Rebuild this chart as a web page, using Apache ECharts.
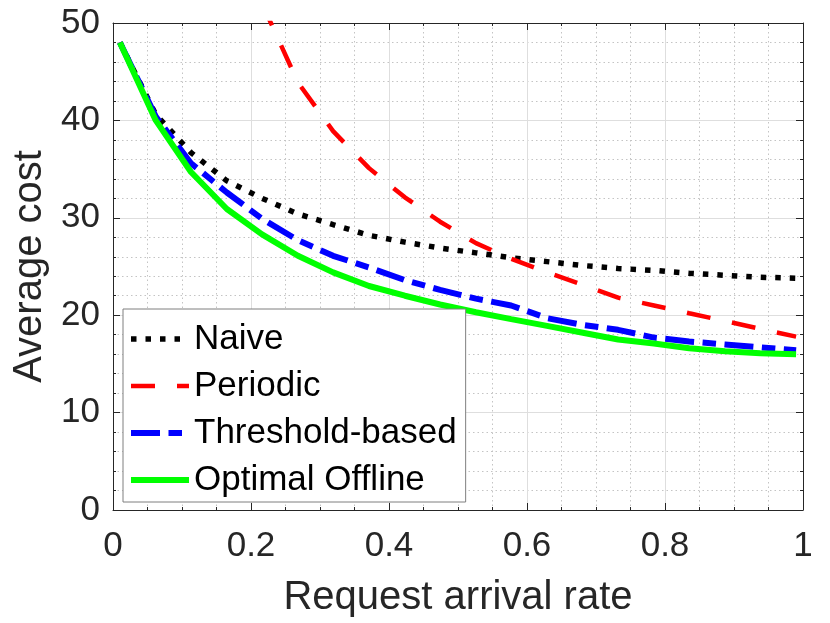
<!DOCTYPE html>
<html>
<head>
<meta charset="utf-8">
<script src="https://cdn.jsdelivr.net/npm/echarts@6/dist/echarts.min.js"></script>
<style>
  html, body { margin: 0; padding: 0; background: #fff; }
  #chart { width: 830px; height: 623px; }
</style>
</head>
<body>
<div id="chart"></div>
<script>
// x positions of the samples (request arrival rate)
var rates = [0.010, 0.062, 0.113, 0.165, 0.216, 0.268, 0.319, 0.371, 0.423, 0.474,
             0.526, 0.577, 0.629, 0.681, 0.732, 0.784, 0.835, 0.887, 0.938, 0.990];
// average cost per policy
var naive = [48.0, 40.6, 36.7, 33.8, 32.0, 30.4, 29.3, 28.2, 27.5, 26.9,
             26.4, 25.9, 25.5, 25.1, 24.8, 24.6, 24.3, 24.1, 23.9, 23.8];
var periodic = [null, null, null, null, 52.0, 43.9, 38.9, 35.1, 32.1, 29.6,
                27.4, 25.8, 24.4, 23.1, 21.8, 21.0, 20.2, 19.4, 18.6, 17.8];
var threshold = [48.0, 40.4, 35.6, 32.6, 29.9, 27.7, 26.1, 24.9, 23.6, 22.6,
                 21.7, 21.0, 19.7, 19.0, 18.5, 17.7, 17.3, 17.0, 16.7, 16.4];
var optimal = [48.0, 40.0, 34.7, 30.9, 28.3, 26.1, 24.4, 23.0, 22.0, 21.1,
               20.3, 19.6, 18.9, 18.2, 17.5, 17.1, 16.6, 16.3, 16.1, 16.0];
var names = ['Naive', 'Periodic', 'Threshold-based', 'Optimal Offline'];

var font = '"Liberation Sans", Arial, Helvetica, sans-serif';
var ink = '#262626';

function pairs(ys) {
    return rates.map(function(x, i) { return [x, ys[i]]; });
}

// box axis (top / right copies carry only ticks)
function frameAxis(pos, isX) {
    var ax = {
        type: 'value',
        position: pos,
        min: 0,
        max: isX ? 1 : 50,
        interval: isX ? 0.2 : 10,
        axisLine: { show: true, onZero: false, lineStyle: { color: ink, width: 1 } },
        axisTick: { show: true, inside: true, length: 7, lineStyle: { color: ink } },
        minorTick: { show: true, splitNumber: isX ? 4 : 5, length: 3, lineStyle: { color: ink } },
        axisLabel: { show: false },
        splitLine: { show: false },
        minorSplitLine: { show: false }
    };
    return ax;
}

var xMain = frameAxis('bottom', true);
xMain.axisLabel = { show: true, margin: 19, color: ink, fontSize: 35, fontFamily: font };
xMain.splitLine = { show: true, lineStyle: { color: '#dedede', width: 1 } };
xMain.minorSplitLine = { show: true, lineStyle: { color: '#c4c4c4', width: 1, type: [1.5, 3] } };
xMain.name = 'Request arrival rate';
xMain.nameLocation = 'middle';
xMain.nameGap = 68;
xMain.nameTextStyle = { color: ink, fontSize: 40, fontFamily: font };

var yMain = frameAxis('left', false);
yMain.axisLabel = { show: true, margin: 13, color: ink, fontSize: 35, fontFamily: font };
yMain.splitLine = { show: true, lineStyle: { color: '#dedede', width: 1 } };
yMain.minorSplitLine = { show: true, lineStyle: { color: '#c4c4c4', width: 1, type: [1.5, 3] } };
yMain.name = 'Average cost';
yMain.nameLocation = 'middle';
yMain.nameGap = 62;
yMain.nameTextStyle = { color: ink, fontSize: 40, fontFamily: font };

var chart = echarts.init(document.getElementById('chart'));
chart.setOption({
    animation: false,
    backgroundColor: '#fff',
    grid: { left: 113, top: 23, right: 27, bottom: 113, containLabel: false },
    xAxis: [xMain, frameAxis('top', true)],
    yAxis: [yMain, frameAxis('right', false)],
    legend: {
        orient: 'vertical',
        left: 123,
        top: 309,
        data: names,
        itemWidth: 58,
        itemHeight: 14,
        itemGap: 7,
        padding: [10, 9, 2, 5],
        backgroundColor: '#fff',
        borderColor: '#7f7f7f',
        borderWidth: 1,
        borderRadius: 0,
        z: 10,
        itemStyle: { opacity: 0 },
        lineStyle: { width: 'inherit' },
        textStyle: { color: '#000', fontSize: 35, lineHeight: 40, fontFamily: font }
    },
    series: [
        {
            name: names[0], type: 'line', data: pairs(naive), symbol: 'none',
            lineStyle: { color: '#000', width: 5.5, type: [5.5, 9], cap: 'butt' },
            itemStyle: { color: '#000' }
        },
        {
            name: names[1], type: 'line', data: pairs(periodic), symbol: 'none',
            lineStyle: { color: '#ff0000', width: 4.5, type: [24, 22], cap: 'butt' },
            itemStyle: { color: '#ff0000' }
        },
        {
            name: names[2], type: 'line', data: pairs(threshold), symbol: 'none',
            lineStyle: { color: '#0000ff', width: 6, type: [29, 8.5, 13.5, 8.5], cap: 'butt' },
            itemStyle: { color: '#0000ff' }
        },
        {
            name: names[3], type: 'line', data: pairs(optimal), symbol: 'none',
            lineStyle: { color: '#00ff00', width: 6, type: 'solid' },
            itemStyle: { color: '#00ff00' }
        }
    ]
});
</script>
</body>
</html>
